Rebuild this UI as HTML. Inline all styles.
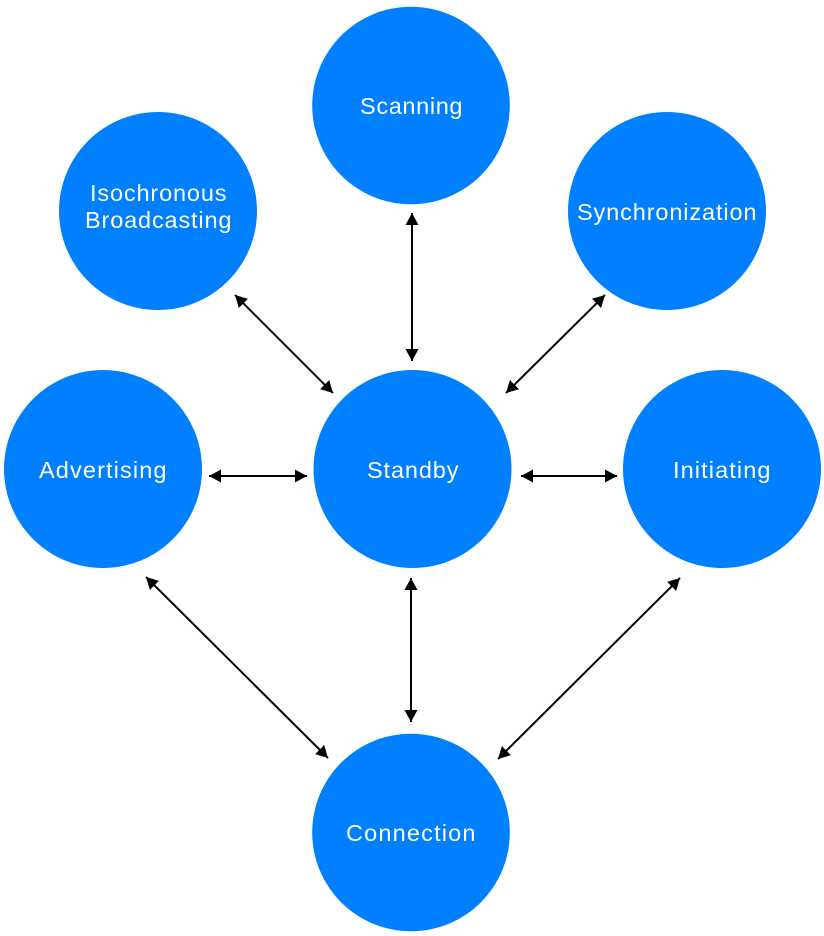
<!DOCTYPE html>
<html>
<head>
<meta charset="utf-8">
<style>
html,body{margin:0;padding:0;background:#fff;width:824px;height:936px;overflow:hidden}
svg{display:block}
text{font-family:"Liberation Sans",sans-serif;font-size:23.500px;fill:#fff}
</style>
</head>
<body>
<svg width="824" height="936" viewBox="0 0 824 936" xmlns="http://www.w3.org/2000/svg">
<defs>
<marker id="a" viewBox="0 0 12 14" refX="12" refY="7" markerWidth="12" markerHeight="14" markerUnits="userSpaceOnUse" orient="auto-start-reverse">
<path d="M0 0.500L12 7L0 13.500Z" fill="#000"/>
</marker>
</defs>
<g fill="#0080ff">
<circle cx="411" cy="105.500" r="98.800"/>
<circle cx="158" cy="211" r="99"/>
<circle cx="667" cy="211" r="99"/>
<circle cx="103" cy="469" r="99"/>
<circle cx="412.500" cy="469" r="99"/>
<circle cx="722" cy="469" r="99"/>
<circle cx="411" cy="832.500" r="98.800"/>
</g>
<g stroke="#000" stroke-width="2" fill="none">
<line x1="235" y1="295" x2="333" y2="393" marker-start="url(#a)" marker-end="url(#a)"/>
<line x1="412" y1="213" x2="412" y2="361" marker-start="url(#a)" marker-end="url(#a)"/>
<line x1="605" y1="295" x2="506" y2="393" marker-start="url(#a)" marker-end="url(#a)"/>
<line x1="209" y1="476" x2="307" y2="476" marker-start="url(#a)" marker-end="url(#a)"/>
<line x1="521" y1="476" x2="617" y2="476" marker-start="url(#a)" marker-end="url(#a)"/>
<line x1="146" y1="577" x2="328" y2="758" marker-start="url(#a)" marker-end="url(#a)"/>
<line x1="411" y1="578" x2="411" y2="722" marker-start="url(#a)" marker-end="url(#a)"/>
<line x1="680" y1="578" x2="498" y2="759" marker-start="url(#a)" marker-end="url(#a)"/>
</g>
<text x="360" y="114" textLength="102.500" lengthAdjust="spacing">Scanning</text>
<text x="90" y="201" textLength="136.500" lengthAdjust="spacing">Isochronous</text>
<text x="85" y="228" textLength="146.500" lengthAdjust="spacing">Broadcasting</text>
<text x="577" y="220" textLength="179.500" lengthAdjust="spacing">Synchronization</text>
<text x="39" y="478" textLength="127.500" lengthAdjust="spacing">Advertising</text>
<text x="367" y="478" textLength="91.500" lengthAdjust="spacing">Standby</text>
<text x="673" y="478" textLength="97.500" lengthAdjust="spacing">Initiating</text>
<text x="346" y="841" textLength="129.500" lengthAdjust="spacing">Connection</text>
</svg>
</body>
</html>
